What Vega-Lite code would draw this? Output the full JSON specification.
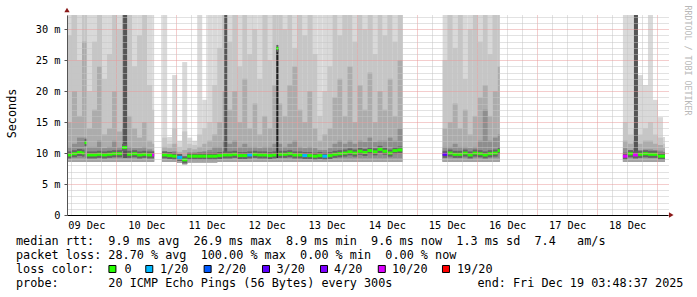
{
  "$schema": "https://vega.github.io/schema/vega-lite/v6.json",
  "width": 601,
  "height": 200,
  "autosize": {"type": "none"},
  "padding": {"left": 67, "top": 15, "right": 29, "bottom": 82},
  "background": "white",
  "config": {"view": {"stroke": null}},
  "datasets": {
    "smoke": [
      {"t":4.3,"t2":6.3,"lo":8.6,"b":9.2,"hi":32.3,"q3":29,"q2":15,"q1":11,"med":9.7,"loss":"0"},
      {"t":6.3,"t2":8.3,"lo":8.6,"b":9.2,"hi":32.3,"q3":32.3,"q2":20,"q1":11.5,"med":9.9,"loss":"0"},
      {"t":8.3,"t2":10.3,"lo":8.6,"b":9.2,"hi":32.3,"q3":25,"q2":16,"q1":12.5,"med":10.1,"loss":"0"},
      {"t":10.3,"t2":11.3,"lo":8.6,"b":9.2,"hi":32.3,"q3":32.3,"q2":28,"q1":12.5,"med":10.0,"loss":"0"},
      {"t":11.3,"t2":12.3,"lo":8.6,"b":9.2,"hi":32.3,"q3":32.3,"q2":28,"q1":12.5,"med":11.7,"loss":"0"},
      {"t":12.3,"t2":14.3,"lo":8.6,"b":9.2,"hi":32.3,"q3":20,"q2":14,"q1":11,"med":9.7,"loss":"0"},
      {"t":14.3,"t2":16.3,"lo":8.6,"b":9.2,"hi":32.3,"q3":28,"q2":17,"q1":11,"med":9.7,"loss":"0"},
      {"t":16.3,"t2":18.3,"lo":8.6,"b":9.2,"hi":32.3,"q3":32.3,"q2":24,"q1":12,"med":9.8,"loss":"0"},
      {"t":18.3,"t2":20.3,"lo":8.6,"b":9.2,"hi":32.3,"q3":22,"q2":13,"q1":10.8,"med":9.7,"loss":"0"},
      {"t":20.3,"t2":22.3,"lo":8.6,"b":9.2,"hi":32.3,"q3":26,"q2":14,"q1":11,"med":9.8,"loss":"0"},
      {"t":22.3,"t2":24.3,"lo":8.6,"b":9.2,"hi":32.3,"q3":32.3,"q2":20,"q1":12,"med":9.9,"loss":"0"},
      {"t":24.3,"t2":26.3,"lo":8.6,"b":9.2,"hi":32.3,"q3":30,"q2":13.5,"q1":11,"med":9.9,"loss":"0"},
      {"t":26.3,"t2":28.3,"lo":8.6,"b":9.2,"hi":32.3,"q3":32.3,"q2":32.3,"q1":14,"med":10.9,"loss":"0"},
      {"t":28.3,"t2":30.3,"lo":8.6,"b":9.2,"hi":32.3,"q3":32.3,"q2":16,"q1":11,"med":9.8,"loss":"0"},
      {"t":30.3,"t2":32.3,"lo":8.6,"b":9.2,"hi":32.3,"q3":24,"q2":14,"q1":10.8,"med":9.9,"loss":"0"},
      {"t":32.3,"t2":34.3,"lo":8.6,"b":9.2,"hi":32.3,"q3":29,"q2":12.5,"q1":10.8,"med":9.7,"loss":"0"},
      {"t":34.3,"t2":36.3,"lo":8.6,"b":9.2,"hi":32.3,"q3":32.3,"q2":15,"q1":11,"med":9.8,"loss":"0"},
      {"t":36.3,"t2":38.3,"lo":8.6,"b":9.2,"hi":32.3,"q3":21,"q2":12,"q1":10.6,"med":9.7,"loss":"0"},
      {"t":38.3,"t2":39.1,"lo":8.6,"b":9.2,"hi":32.3,"q3":17,"q2":11.5,"q1":10.4,"med":9.7,"loss":"10/20"},

      {"t":42.3,"t2":44.3,"lo":8.6,"b":9.2,"hi":32.3,"q3":12.5,"q2":11,"q1":10.3,"med":9.7,"loss":"0"},
      {"t":44.3,"t2":46.3,"lo":8.6,"b":9.2,"hi":12.6,"q3":11.5,"q2":10.8,"q1":10.2,"med":9.6,"loss":"0"},
      {"t":46.3,"t2":48.3,"lo":8.6,"b":9.2,"hi":22.6,"q3":14,"q2":11.5,"q1":10.3,"med":9.5,"loss":"0"},
      {"t":48.3,"t2":50.3,"lo":8.4,"b":9.0,"hi":12.0,"q3":11,"q2":10.2,"q1":9.7,"med":9.3,"loss":"1/20"},
      {"t":50.3,"t2":52.3,"lo":8.2,"b":8.7,"hi":24.7,"q3":13.5,"q2":10.5,"q1":9.5,"med":8.9,"loss":"0"},
      {"t":52.3,"t2":54.3,"lo":8.5,"b":9.1,"hi":12.5,"q3":11.5,"q2":10.8,"q1":10.0,"med":9.5,"loss":"0"},
      {"t":54.3,"t2":56.3,"lo":8.5,"b":9.1,"hi":12.0,"q3":11.3,"q2":10.6,"q1":10.0,"med":9.5,"loss":"0"},
      {"t":56.3,"t2":58.3,"lo":8.5,"b":9.1,"hi":32.3,"q3":13,"q2":11,"q1":10.2,"med":9.5,"loss":"0"},
      {"t":58.3,"t2":60.3,"lo":8.5,"b":9.1,"hi":18.6,"q3":14,"q2":11.5,"q1":10.3,"med":9.5,"loss":"0"},
      {"t":60.3,"t2":62.3,"lo":8.5,"b":9.1,"hi":32.3,"q3":15,"q2":12,"q1":10.5,"med":9.5,"loss":"0"},
      {"t":62.3,"t2":64.3,"lo":8.5,"b":9.1,"hi":32.3,"q3":21,"q2":13,"q1":11,"med":9.5,"loss":"0"},
      {"t":64.3,"t2":66.3,"lo":8.6,"b":9.2,"hi":32.3,"q3":27,"q2":15,"q1":11,"med":9.6,"loss":"0"},
      {"t":66.3,"t2":68.3,"lo":8.6,"b":9.2,"hi":32.3,"q3":32.3,"q2":20,"q1":12,"med":9.7,"loss":"0"},
      {"t":68.3,"t2":70.3,"lo":8.6,"b":9.2,"hi":32.3,"q3":28,"q2":17,"q1":11.5,"med":9.7,"loss":"0"},
      {"t":70.3,"t2":72.3,"lo":8.6,"b":9.2,"hi":32.3,"q3":32.3,"q2":20,"q1":12,"med":9.8,"loss":"0"},
      {"t":72.3,"t2":74.3,"lo":8.6,"b":9.2,"hi":32.3,"q3":24,"q2":15,"q1":11,"med":9.6,"loss":"0"},
      {"t":74.3,"t2":76.3,"lo":8.6,"b":9.2,"hi":32.3,"q3":32.3,"q2":22,"q1":11.5,"med":9.6,"loss":"0"},
      {"t":76.3,"t2":78.3,"lo":8.6,"b":9.2,"hi":32.3,"q3":26,"q2":14,"q1":11,"med":9.7,"loss":"1/20"},
      {"t":78.3,"t2":80.3,"lo":8.6,"b":9.2,"hi":32.3,"q3":30,"q2":18,"q1":11,"med":9.8,"loss":"0"},
      {"t":80.3,"t2":82.3,"lo":8.6,"b":9.2,"hi":32.3,"q3":22,"q2":13,"q1":10.8,"med":9.7,"loss":"0"},
      {"t":82.3,"t2":84.3,"lo":8.6,"b":9.2,"hi":32.3,"q3":32.3,"q2":16,"q1":11,"med":9.7,"loss":"0"},
      {"t":84.3,"t2":86.3,"lo":8.6,"b":9.2,"hi":32.3,"q3":25,"q2":14,"q1":11,"med":9.6,"loss":"0"},
      {"t":86.3,"t2":87.9,"lo":8.6,"b":9.2,"hi":32.3,"q3":32.3,"q2":21,"q1":11.5,"med":9.7,"loss":"0"},
      {"t":87.9,"t2":88.7,"lo":8.6,"b":9.2,"hi":32.3,"q3":32.3,"q2":27,"q1":27,"med":26.9,"loss":"0"},
      {"t":88.7,"t2":90.3,"lo":8.6,"b":9.2,"hi":32.3,"q3":32.3,"q2":18,"q1":11.5,"med":9.8,"loss":"0"},
      {"t":90.3,"t2":92.3,"lo":8.6,"b":9.2,"hi":32.3,"q3":30,"q2":16,"q1":11,"med":9.8,"loss":"0"},
      {"t":92.3,"t2":94.3,"lo":8.6,"b":9.2,"hi":32.3,"q3":32.3,"q2":21,"q1":11.5,"med":9.9,"loss":"0"},
      {"t":94.3,"t2":96.3,"lo":8.6,"b":9.2,"hi":32.3,"q3":27,"q2":24,"q1":12,"med":9.7,"loss":"0"},
      {"t":96.3,"t2":98.3,"lo":8.6,"b":9.2,"hi":32.3,"q3":32.3,"q2":17,"q1":11,"med":9.7,"loss":"0"},
      {"t":98.3,"t2":100.3,"lo":8.6,"b":9.2,"hi":32.3,"q3":29,"q2":15,"q1":10.8,"med":9.6,"loss":"1/20"},
      {"t":100.3,"t2":102.3,"lo":8.6,"b":9.2,"hi":32.3,"q3":32.3,"q2":20,"q1":11,"med":9.6,"loss":"0"},
      {"t":102.3,"t2":104.3,"lo":8.6,"b":9.2,"hi":32.3,"q3":26,"q2":14,"q1":10.8,"med":9.5,"loss":"0"},
      {"t":104.3,"t2":106.3,"lo":8.6,"b":9.2,"hi":32.3,"q3":16,"q2":12,"q1":10.5,"med":9.6,"loss":"0"},
      {"t":106.3,"t2":108.3,"lo":8.6,"b":9.2,"hi":32.3,"q3":20,"q2":13,"q1":10.5,"med":9.5,"loss":"1/20"},
      {"t":108.3,"t2":110.3,"lo":8.6,"b":9.2,"hi":32.3,"q3":24,"q2":14,"q1":10.8,"med":9.6,"loss":"0"},
      {"t":110.3,"t2":112.3,"lo":8.6,"b":9.2,"hi":32.3,"q3":32.3,"q2":19,"q1":11.5,"med":9.8,"loss":"0"},
      {"t":112.3,"t2":114.3,"lo":8.6,"b":9.2,"hi":32.3,"q3":29,"q2":22,"q1":12,"med":9.9,"loss":"0"},
      {"t":114.3,"t2":116.3,"lo":8.6,"b":9.2,"hi":32.3,"q3":32.3,"q2":16,"q1":11.5,"med":10.0,"loss":"0"},
      {"t":116.3,"t2":118.3,"lo":8.6,"b":9.2,"hi":32.3,"q3":32.3,"q2":24,"q1":12,"med":10.2,"loss":"0"},
      {"t":118.3,"t2":120.3,"lo":8.6,"b":9.2,"hi":32.3,"q3":28,"q2":15,"q1":11.5,"med":10.0,"loss":"0"},
      {"t":120.3,"t2":122.3,"lo":8.6,"b":9.2,"hi":32.3,"q3":32.3,"q2":21,"q1":12,"med":10.3,"loss":"0"},
      {"t":122.3,"t2":124.3,"lo":8.6,"b":9.2,"hi":32.3,"q3":30,"q2":17,"q1":11.8,"med":10.1,"loss":"0"},
      {"t":124.3,"t2":126.3,"lo":8.6,"b":9.2,"hi":32.3,"q3":32.3,"q2":23,"q1":12.5,"med":10.4,"loss":"0"},
      {"t":126.3,"t2":128.3,"lo":8.6,"b":9.2,"hi":32.3,"q3":26,"q2":15,"q1":11.8,"med":10.2,"loss":"0"},
      {"t":128.3,"t2":130.3,"lo":8.6,"b":9.2,"hi":32.3,"q3":32.3,"q2":20,"q1":12,"med":10.6,"loss":"0"},
      {"t":130.3,"t2":132.3,"lo":8.6,"b":9.2,"hi":32.3,"q3":29,"q2":17,"q1":12,"med":10.3,"loss":"0"},
      {"t":132.3,"t2":134.3,"lo":8.6,"b":9.2,"hi":32.3,"q3":32.3,"q2":22,"q1":12.5,"med":10.0,"loss":"0"},
      {"t":134.3,"t2":136.3,"lo":8.6,"b":9.2,"hi":32.3,"q3":28,"q2":16,"q1":12,"med":10.4,"loss":"0"},
      {"t":136.3,"t2":138.3,"lo":8.6,"b":9.2,"hi":32.3,"q3":32.3,"q2":25,"q1":14,"med":10.5,"loss":"0"},

      {"t":154.3,"t2":156.3,"lo":8.6,"b":9.2,"hi":32.3,"q3":25,"q2":14,"q1":11,"med":9.8,"loss":"3/20"},
      {"t":156.3,"t2":158.3,"lo":8.6,"b":9.2,"hi":32.3,"q3":32.3,"q2":15,"q1":11,"med":10.0,"loss":"0"},
      {"t":158.3,"t2":160.3,"lo":8.6,"b":9.2,"hi":32.3,"q3":27,"q2":18,"q1":11.5,"med":9.8,"loss":"0"},
      {"t":160.3,"t2":162.3,"lo":8.6,"b":9.2,"hi":32.3,"q3":32.3,"q2":14,"q1":11,"med":9.8,"loss":"0"},
      {"t":162.3,"t2":164.3,"lo":8.6,"b":9.2,"hi":32.3,"q3":22,"q2":17,"q1":11,"med":10.0,"loss":"0"},
      {"t":164.3,"t2":166.3,"lo":8.6,"b":9.2,"hi":32.3,"q3":30,"q2":13,"q1":10.8,"med":9.7,"loss":"0"},
      {"t":166.3,"t2":168.3,"lo":8.6,"b":9.2,"hi":32.3,"q3":32.3,"q2":16,"q1":11,"med":10.0,"loss":"0"},
      {"t":168.3,"t2":170.3,"lo":8.6,"b":9.2,"hi":32.3,"q3":28,"q2":19,"q1":12,"med":9.9,"loss":"0"},
      {"t":170.3,"t2":172.3,"lo":8.6,"b":9.2,"hi":32.3,"q3":32.3,"q2":21,"q1":17,"med":9.7,"loss":"0"},
      {"t":172.3,"t2":174.3,"lo":8.6,"b":9.2,"hi":32.3,"q3":26,"q2":16,"q1":12,"med":9.9,"loss":"0"},
      {"t":174.3,"t2":176.3,"lo":8.6,"b":9.2,"hi":32.3,"q3":32.3,"q2":20,"q1":12.5,"med":10.0,"loss":"0"},
      {"t":176.3,"t2":177.1,"lo":8.6,"b":9.2,"hi":32.3,"q3":32.3,"q2":24,"q1":13,"med":10.4,"loss":"0"},

      {"t":226.3,"t2":228.3,"lo":8.6,"b":9.2,"hi":32.3,"q3":15,"q2":12,"q1":10.8,"med":9.5,"loss":"10/20"},
      {"t":228.3,"t2":230.3,"lo":8.6,"b":9.2,"hi":32.3,"q3":13,"q2":11.5,"q1":10.5,"med":9.9,"loss":"0"},
      {"t":230.3,"t2":232.3,"lo":8.6,"b":9.2,"hi":32.3,"q3":14,"q2":12,"q1":10.8,"med":9.7,"loss":"10/20"},
      {"t":232.3,"t2":234.3,"lo":8.6,"b":9.2,"hi":22.6,"q3":13,"q2":11.5,"q1":10.5,"med":9.8,"loss":"0"},
      {"t":234.3,"t2":236.3,"lo":8.6,"b":9.2,"hi":21,"q3":14,"q2":12,"q1":10.6,"med":9.9,"loss":"0"},
      {"t":236.3,"t2":238.3,"lo":8.6,"b":9.2,"hi":32.3,"q3":15,"q2":12,"q1":10.6,"med":9.8,"loss":"0"},
      {"t":238.3,"t2":240.3,"lo":8.6,"b":9.2,"hi":18.6,"q3":13,"q2":11.5,"q1":10.5,"med":9.8,"loss":"0"},
      {"t":240.3,"t2":242.3,"lo":8.6,"b":9.2,"hi":15.8,"q3":12.5,"q2":11.3,"q1":10.4,"med":9.5,"loss":"0"},
      {"t":242.3,"t2":243.1,"lo":8.6,"b":9.2,"hi":12.6,"q3":11.5,"q2":10.8,"q1":10.2,"med":9.5,"loss":"0"}
    ],
    "stripes": [
      {"t":26.7,"t2":28.3,"lo":9.2,"top":32.3},
      {"t":67.1,"t2":68.3,"lo":9.2,"top":32.3},
      {"t":230.7,"t2":232.3,"lo":9.2,"top":32.3}
    ],
    "spike": [
      {"t":87.9,"t2":88.7,"lo":9.2,"top":27.0}
    ],
    "arrows": [
      {"t": 4.3, "v": 33.1, "dir": "up"},
      {"t": 245.6, "v": 0, "dir": "right"}
    ],
    "legendText": [
      {"line": 1, "col": 0, "text": "median\u00a0rtt:\u00a0\u00a09.9\u00a0ms\u00a0avg\u00a0\u00a026.9\u00a0ms\u00a0max\u00a0\u00a08.9\u00a0ms\u00a0min\u00a0\u00a09.6\u00a0ms\u00a0now\u00a0\u00a01.3\u00a0ms\u00a0sd\u00a0\u00a07.4\u00a0\u00a0\u00a0am/s"},
      {"line": 2, "col": 0, "text": "packet\u00a0loss:\u00a028.70\u00a0%\u00a0avg\u00a0\u00a0100.00\u00a0%\u00a0max\u00a0\u00a00.00\u00a0%\u00a0min\u00a0\u00a00.00\u00a0%\u00a0now"},
      {"line": 3, "col": 0, "text": "loss\u00a0color:"},
      {"line": 3, "col": 15.27, "text": "0"},
      {"line": 3, "col": 20.28, "text": "1/20"},
      {"line": 3, "col": 28.42, "text": "2/20"},
      {"line": 3, "col": 36.68, "text": "3/20"},
      {"line": 3, "col": 44.79, "text": "4/20"},
      {"line": 3, "col": 52.96, "text": "10/20"},
      {"line": 3, "col": 62.11, "text": "19/20"},
      {"line": 4, "col": 0, "text": "probe:\u00a0\u00a0\u00a0\u00a0\u00a0\u00a0\u00a020\u00a0ICMP\u00a0Echo\u00a0Pings\u00a0(56\u00a0Bytes)\u00a0every\u00a0300s"},
      {"line": 4, "col": 65.0, "text": "end:\u00a0Fri\u00a0Dec\u00a019\u00a003:48:37\u00a02025"}
    ],
    "legendBoxes": [
      {"line": 3, "col": 13.58, "loss": "0"},
      {"line": 3, "col": 18.77, "loss": "1/20"},
      {"line": 3, "col": 26.99, "loss": "2/20"},
      {"line": 3, "col": 35.21, "loss": "3/20"},
      {"line": 3, "col": 43.38, "loss": "4/20"},
      {"line": 3, "col": 51.52, "loss": "10/20"},
      {"line": 3, "col": 60.56, "loss": "19/20"}
    ]
  },
  "resolve": {"scale": {"x": "independent", "y": "independent"}},
  "layer": [
    {
      "data": {"name": "smoke"},
      "mark": {"type": "rect", "color": "#d9d9d9"},
      "encoding": {
        "x": {"field": "t", "type": "quantitative", "scale": {"domain": [4.3, 244.3], "nice": false, "zero": false},
              "axis": {"orient": "bottom", "values": [6,12,18,30,36,42,54,60,66,78,84,90,102,108,114,126,132,138,150,156,162,174,180,186,198,204,210,222,228,234],
                       "labels": false, "ticks": false, "domain": false, "grid": true, "gridColor": "#c4c4c4", "gridDash": [1,1], "gridWidth": 1, "title": null, "zindex": 1}},
        "x2": {"field": "t2"},
        "y": {"field": "lo", "type": "quantitative", "scale": {"domain": [0, 32.3], "nice": false, "zero": false},
              "axis": {"orient": "left", "values": [1,2,3,4,6,7,8,9,11,12,13,14,16,17,18,19,21,22,23,24,26,27,28,29,31,32],
                       "labels": false, "ticks": false, "domain": false, "grid": true, "gridColor": "#c4c4c4", "gridDash": [1,1], "gridWidth": 1, "title": null, "zindex": 1}},
        "y2": {"field": "hi"}
      }
    },
    {
      "data": {"name": "smoke"},
      "mark": {"type": "rect", "color": "#c6c6c6"},
      "encoding": {
        "x": {"field": "t", "type": "quantitative", "scale": {"domain": [4.3, 244.3], "nice": false, "zero": false},
              "axis": {"orient": "bottom", "values": [24,48,72,96,120,144,168,192,216,240],
                       "labels": false, "ticks": false, "domain": false, "grid": true, "gridColor": "#e89a9a", "gridDash": [1,1], "gridWidth": 1, "title": null, "zindex": 1}},
        "x2": {"field": "t2"},
        "y": {"field": "lo", "type": "quantitative", "scale": {"domain": [0, 32.3], "nice": false, "zero": false},
              "axis": {"orient": "left", "values": [0,5,10,15,20,25,30],
                       "labelExpr": "datum.value == 0 ? '0' : datum.value + ' m'",
                       "labelFont": "DejaVu Sans Mono", "labelFontSize": 10.3, "labelColor": "#000", "labelPadding": 4,
                       "ticks": true, "tickSize": 3, "tickColor": "#555", "domain": true, "domainColor": "#555",
                       "grid": true, "gridColor": "#e89a9a", "gridDash": [1,1], "gridWidth": 1,
                       "title": "Seconds", "titleFont": "DejaVu Sans Mono", "titleFontSize": 11.8, "titleFontWeight": "normal", "titleColor": "#000",
                       "titleAngle": -90, "titleX": -56, "titleY": 98, "titleAlign": "center", "titleBaseline": "middle", "zindex": 1}},
        "y2": {"field": "q3"}
      }
    },
    {
      "data": {"name": "smoke"},
      "mark": {"type": "rect", "color": "#acacac"},
      "encoding": {
        "x": {"field": "t", "type": "quantitative", "scale": {"domain": [4.3, 244.3], "nice": false, "zero": false},
              "axis": {"orient": "bottom", "values": [12,36,60,84,108,132,156,180,204,228],
                       "labelExpr": "(floor(datum.value / 24) + 9 < 10 ? '0' : '') + (floor(datum.value / 24) + 9) + ' Dec'",
                       "labelFont": "DejaVu Sans Mono", "labelFontSize": 10.3, "labelColor": "#000", "labelPadding": 5,
                       "labelFlush": false, "labelOverlap": false,
                       "ticks": false, "domain": true, "domainColor": "#000", "grid": false, "title": null, "zindex": 1}},
        "x2": {"field": "t2"},
        "y": {"field": "lo", "type": "quantitative", "scale": {"domain": [0, 32.3], "nice": false, "zero": false}, "axis": null},
        "y2": {"field": "q2"}
      }
    },
    {
      "data": {"name": "smoke"},
      "mark": {"type": "rect", "color": "#8e8e8e"},
      "encoding": {
        "x": {"field": "t", "type": "quantitative", "scale": {"domain": [4.3, 244.3], "nice": false, "zero": false}, "axis": null},
        "x2": {"field": "t2"},
        "y": {"field": "lo", "type": "quantitative", "scale": {"domain": [0, 32.3], "nice": false, "zero": false}, "axis": null},
        "y2": {"field": "q1"}
      }
    },
    {
      "data": {"name": "stripes"},
      "mark": {"type": "rect", "color": "#555555"},
      "encoding": {
        "x": {"field": "t", "type": "quantitative", "scale": {"domain": [4.3, 244.3], "nice": false, "zero": false}, "axis": null},
        "x2": {"field": "t2"},
        "y": {"field": "lo", "type": "quantitative", "scale": {"domain": [0, 32.3], "nice": false, "zero": false}, "axis": null},
        "y2": {"field": "top"}
      }
    },
    {
      "data": {"name": "spike"},
      "mark": {"type": "rect", "color": "#1e1e1e"},
      "encoding": {
        "x": {"field": "t", "type": "quantitative", "scale": {"domain": [4.3, 244.3], "nice": false, "zero": false}, "axis": null},
        "x2": {"field": "t2"},
        "y": {"field": "lo", "type": "quantitative", "scale": {"domain": [0, 32.3], "nice": false, "zero": false}, "axis": null},
        "y2": {"field": "top"}
      }
    },
    {
      "data": {"name": "smoke"},
      "mark": {"type": "rect", "color": "#a4a4a4"},
      "encoding": {
        "x": {"field": "t", "type": "quantitative", "scale": {"domain": [4.3, 244.3], "nice": false, "zero": false}, "axis": null},
        "x2": {"field": "t2"},
        "y": {"field": "lo", "type": "quantitative", "scale": {"domain": [0, 32.3], "nice": false, "zero": false}, "axis": null},
        "y2": {"field": "b"}
      }
    },
    {
      "data": {"name": "smoke"},
      "mark": {"type": "rule", "strokeWidth": 7, "strokeCap": "butt", "color": "#646464"},
      "encoding": {
        "x": {"field": "t", "type": "quantitative", "scale": {"domain": [4.3, 244.3], "nice": false, "zero": false}, "axis": null},
        "x2": {"field": "t2"},
        "y": {"field": "med", "type": "quantitative", "scale": {"domain": [0, 32.3], "nice": false, "zero": false}, "axis": null}
      }
    },
    {
      "data": {"name": "smoke"},
      "mark": {"type": "rule", "strokeWidth": 3, "strokeCap": "butt"},
      "encoding": {
        "x": {"field": "t", "type": "quantitative", "scale": {"domain": [4.3, 244.3], "nice": false, "zero": false}, "axis": null},
        "x2": {"field": "t2"},
        "y": {"field": "med", "type": "quantitative", "scale": {"domain": [0, 32.3], "nice": false, "zero": false}, "axis": null},
        "color": {"field": "loss", "type": "nominal",
                  "scale": {"domain": ["0","1/20","2/20","3/20","4/20","10/20","19/20"],
                            "range": ["#26ff00","#00b8ff","#0059ff","#5e00ff","#7e00ff","#dd00ff","#ff0000"]},
                  "legend": null}
      }
    },
    {
      "data": {"name": "arrows"},
      "mark": {"type": "point", "filled": true, "opacity": 1, "size": 28, "color": "#8b1a1a"},
      "encoding": {
        "x": {"field": "t", "type": "quantitative", "scale": {"domain": [4.3, 244.3], "nice": false, "zero": false}, "axis": null},
        "y": {"field": "v", "type": "quantitative", "scale": {"domain": [0, 32.3], "nice": false, "zero": false}, "axis": null},
        "shape": {"field": "dir", "type": "nominal", "scale": {"domain": ["up", "right"], "range": ["triangle-up", "triangle-right"]}, "legend": null}
      }
    },
    {
      "data": {"name": "legendText"},
      "mark": {"type": "text", "font": "DejaVu Sans Mono", "fontSize": 11.8, "align": "left", "baseline": "middle", "color": "#000"},
      "encoding": {
        "x": {"field": "col", "type": "quantitative", "scale": {"domain": [7.183, 91.83], "nice": false, "zero": false}, "axis": null},
        "y": {"field": "line", "type": "quantitative", "scale": {"domain": [-15.143, -0.857], "nice": false, "zero": false, "reverse": true},
              "axis": {"orient": "right", "labels": false, "ticks": false, "domain": false, "grid": false,
                       "title": "RRDTOOL / TOBI OETIKER", "titleFont": "DejaVu Sans Mono", "titleFontSize": 8.3, "titleFontWeight": "normal",
                       "titleColor": "#b8b8b8", "titleAngle": 90, "titleX": 18, "titleY": 45, "titleAlign": "center", "titleBaseline": "middle"}},
        "text": {"field": "text"}
      }
    },
    {
      "data": {"name": "legendBoxes"},
      "mark": {"type": "square", "filled": true, "opacity": 1, "size": 49, "stroke": "#000", "strokeWidth": 1},
      "encoding": {
        "x": {"field": "col", "type": "quantitative", "scale": {"domain": [7.183, 91.83], "nice": false, "zero": false}, "axis": null},
        "y": {"field": "line", "type": "quantitative", "scale": {"domain": [-15.143, -0.857], "nice": false, "zero": false, "reverse": true}, "axis": null},
        "color": {"field": "loss", "type": "nominal",
                  "scale": {"domain": ["0","1/20","2/20","3/20","4/20","10/20","19/20"],
                            "range": ["#26ff00","#00b8ff","#0059ff","#5e00ff","#7e00ff","#dd00ff","#ff0000"]},
                  "legend": null}
      }
    }
  ]
}
